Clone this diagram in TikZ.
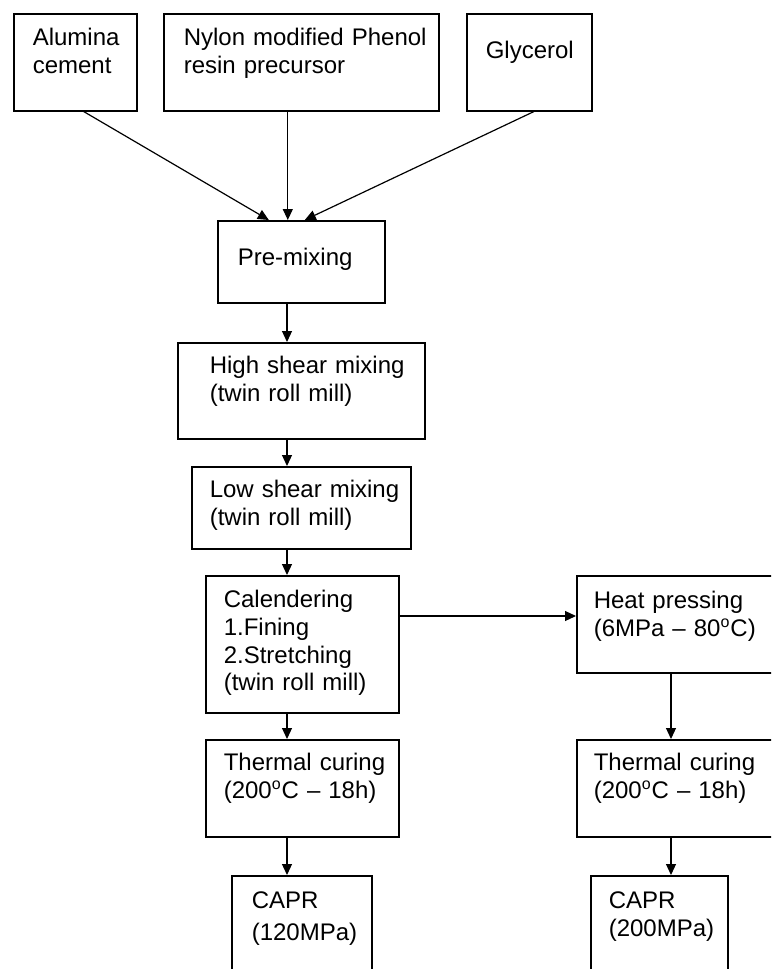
\documentclass[tikz,border=0pt]{standalone}
\usepackage{fontspec}
\setmainfont{Liberation Sans}
\usetikzlibrary{arrows.meta}
\hyphenpenalty=10000

\tikzset{
	procbox/.style={draw, line width=0.8pt, anchor=north west, align=left, inner ysep=0pt, font=\fontsize{12}{13.8}\selectfont},
	flow/.style={->, line width=0.6pt},
}

\begin{document}
\begin{tikzpicture}[x=0.5pt, y=-0.5pt, >={Triangle[length=5.5pt,width=5pt]}]

\useasboundingbox (0,0) rectangle (771,969);
\clip (0,0) rectangle (771,969);

\coordinate (spine)  at (287,0);
\coordinate (spineR) at (671,0);
\coordinate (side)   at (0,616);

% raw materials
\node [procbox, inner xsep=9.5pt, text width=42.5pt, text height=16pt, text depth=32.5pt] at (13,13) (alumina) {Alumina\\cement};
\node [procbox, inner xsep=10pt, text width=117.5pt, text height=16pt, text depth=32.5pt] at (163,13) (nylon) {Nylon~modified~Phenol\\resin~precursor};
\node [procbox, inner xsep=9.5pt, text width=43.5pt, text height=22.5pt, text depth=26pt] at (466,13) (glycerol) {Glycerol};

% mixing
\node [procbox, inner xsep=10pt, text width=63.5pt, text height=22.5pt, text depth=18.5pt] at (217,220) (premix) {Pre-mixing};
\node [procbox, inner xsep=16pt, text width=91.5pt, text height=15.5pt, text depth=32.5pt] at (177,342) (high) {High~shear~mixing\\(twin~roll~mill)};
\node [procbox, inner xsep=9pt, text width=91.5pt, text height=15.5pt, text depth=25.5pt] at (191,466) (low) {Low~shear~mixing\\(twin~roll~mill)};
\node [procbox, inner xsep=9pt, text width=78.5pt, text height=16pt, text depth=52.5pt] at (205,575) (cal) {Calendering\\1.Fining\\2.Stretching\\(twin~roll~mill)};

% left branch
\node [procbox, inner xsep=9pt, text width=78.5pt, text height=15.5pt, text depth=33pt] at (205,739) (cureL) {Thermal~curing\\(200\textsuperscript{o}C~--~18h)};
\node [procbox, inner xsep=10pt, text width=50pt, text height=16.5pt, text depth=41pt] at (231,875) (caprL) {CAPR\\[2pt](120MPa)};

% right branch
\node [procbox, inner xsep=8.5pt, text width=95pt, text height=16.5pt, text depth=32pt] at (576,575) (heat) {Heat~pressing\\(6MPa~--~80\textsuperscript{o}C)};
\node [procbox, inner xsep=8.5pt, text width=95pt, text height=15.5pt, text depth=33pt] at (576,739) (cureR) {Thermal~curing\\(200\textsuperscript{o}C~--~18h)};
\node [procbox, inner xsep=9pt, text width=50.5pt, text height=16.5pt, text depth=41pt] at (590,875) (caprR) {CAPR\\(200MPa)};

%%%%%%%%%%%%%%%%%%%%%%%%%%%%%%%%%%%%%%%%%%%%%%%%%%%%%%%%%%%%%%%%

\draw [flow] ([xshift=4.25pt]alumina.south) -- ([xshift=-16.25pt]premix.north);
\draw [flow] ([xshift=-6.75pt]nylon.south) -- ([xshift=-6.75pt]premix.north);
\draw [flow] ([xshift=2.25pt]glycerol.south) -- ([xshift=1.75pt]premix.north);

\foreach \a/\b in {premix/high, high/low, low/cal, cal/cureL, cureL/caprL} {
	\draw [flow] (\a.south -| spine) -- (\b.north -| spine);
}

\draw [flow] (cal.east |- side) -- (heat.west |- side);

\foreach \a/\b in {heat/cureR, cureR/caprR} {
	\draw [flow] (\a.south -| spineR) -- (\b.north -| spineR);
}

\end{tikzpicture}
\end{document}
